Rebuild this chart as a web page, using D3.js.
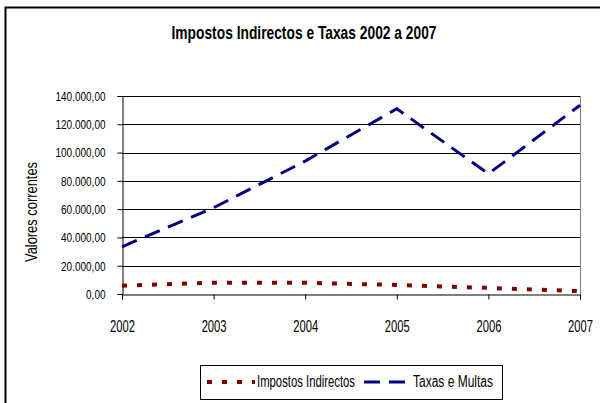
<!DOCTYPE html>
<html>
<head>
<meta charset="utf-8">
<script src="https://cdn.jsdelivr.net/npm/d3@7"></script>
<style>
  body { margin: 0; background: #fff; }
  text { font-family: "Liberation Sans", Arial, sans-serif; fill: #000; }
</style>
</head>
<body>
<div id="chart"></div>
<script>
// data
const years = [2002, 2003, 2004, 2005, 2006, 2007];
const impostos = [5900, 8000, 7900, 6400, 4300, 2000];
const taxas = [33400, 61000, 94000, 131000, 85000, 133500];
const yTicks = [0, 20000, 40000, 60000, 80000, 100000, 120000, 140000];
const seriesNames = ["Impostos Indirectos", "Taxas e Multas"];

const width = 600, height = 403;
const margin = { top: 96, right: 20, bottom: 109, left: 122 };

// squeeze text horizontally to mimic a narrow font
function condense(sel, k) {
  sel.each(function () {
    const len = this.getComputedTextLength();
    d3.select(this)
      .attr("textLength", len * k)
      .attr("lengthAdjust", "spacingAndGlyphs");
  });
}

const svg = d3.select("#chart").append("svg")
  .attr("width", width)
  .attr("height", height);

// outer chart frame (runs off the right and bottom edges)
svg.append("rect")
  .attr("x", 5.5).attr("y", 7.5)
  .attr("width", 620).attr("height", 420)
  .attr("fill", "none")
  .attr("stroke", "#000")
  .attr("stroke-width", 2);

const x = d3.scaleLinear()
  .domain([2002, 2007])
  .range([margin.left, width - 20]);

const y = d3.scaleLinear()
  .domain([0, 140000])
  .range([height - margin.bottom, margin.top]);

const fmt = v => d3.format(",.2f")(v).replace(/,/g, "#").replace(".", ",").replace(/#/g, ".");

// gridlines
svg.append("g")
  .selectAll("line")
  .data(yTicks.filter(d => d > 0))
  .join("line")
  .attr("x1", x(2002)).attr("x2", x(2007))
  .attr("y1", d => Math.round(y(d)) + 0.5)
  .attr("y2", d => Math.round(y(d)) + 0.5)
  .attr("stroke", "#000")
  .attr("stroke-width", 1);

// right border of plot area
svg.append("line")
  .attr("x1", x(2007) + 0.5).attr("x2", x(2007) + 0.5)
  .attr("y1", y(140000)).attr("y2", y(0))
  .attr("stroke", "#808080");

// y axis
const yAxis = svg.append("g")
  .attr("transform", `translate(${Math.round(x(2002)) + 0.5},0)`)
  .call(d3.axisLeft(y).tickValues(yTicks).tickFormat(fmt).tickSize(5).tickPadding(12));
yAxis.selectAll("text").style("font-size", "13.5px").call(condense, 0.74);
yAxis.selectAll("path,line").attr("stroke", "#000");

// x axis
const xAxis = svg.append("g")
  .attr("transform", `translate(0,${Math.round(y(0)) + 0.5})`)
  .call(d3.axisBottom(x).tickValues(years).tickFormat(d3.format("d")).tickSize(5).tickPadding(21));
xAxis.selectAll("text").style("font-size", "16px").call(condense, 0.7);
xAxis.selectAll("path,line").attr("stroke", "#000");

// lines
const line = d3.line()
  .x((d, i) => x(years[i]))
  .y(d => y(d));

svg.append("path")
  .datum(taxas)
  .attr("d", line)
  .attr("fill", "none")
  .attr("stroke", "#000080")
  .attr("stroke-width", 3)
  .attr("stroke-dasharray", "16,9");

svg.append("path")
  .datum(impostos)
  .attr("d", line)
  .attr("fill", "none")
  .attr("stroke", "#800000")
  .attr("stroke-width", 4)
  .attr("stroke-dasharray", "5,10");

// title
svg.append("text")
  .attr("x", 304).attr("y", 39)
  .attr("text-anchor", "middle")
  .style("font-size", "19px")
  .style("font-weight", "bold")
  .text("Impostos Indirectos e Taxas 2002 a 2007")
  .attr("textLength", 265)
  .attr("lengthAdjust", "spacingAndGlyphs");

// y label
svg.append("text")
  .attr("transform", "translate(37,212) rotate(-90)")
  .attr("text-anchor", "middle")
  .style("font-size", "16px")
  .text("Valores correntes")
  .attr("textLength", 100)
  .attr("lengthAdjust", "spacingAndGlyphs");

// legend
const legend = svg.append("g");
legend.append("rect")
  .attr("x", 200.5).attr("y", 365.5)
  .attr("width", 302).attr("height", 34)
  .attr("fill", "#fff")
  .attr("stroke", "#000");

const legendItems = [
  { name: seriesNames[0], color: "#800000", w: 4, dash: "5,10", x0: 207, x1: 255, tx: 257, tw: 98 },
  { name: seriesNames[1], color: "#000080", w: 3, dash: "16,9", x0: 364, x1: 410, tx: 413, tw: 80 }
];
legendItems.forEach(it => {
  legend.append("line")
    .attr("x1", it.x0).attr("x2", it.x1)
    .attr("y1", 382).attr("y2", 382)
    .attr("stroke", it.color)
    .attr("stroke-width", it.w)
    .attr("stroke-dasharray", it.dash);
  legend.append("text")
    .attr("x", it.tx).attr("y", 387)
    .style("font-size", "16px")
    .text(it.name)
    .attr("textLength", it.tw)
    .attr("lengthAdjust", "spacingAndGlyphs");
});
</script>
</body>
</html>
